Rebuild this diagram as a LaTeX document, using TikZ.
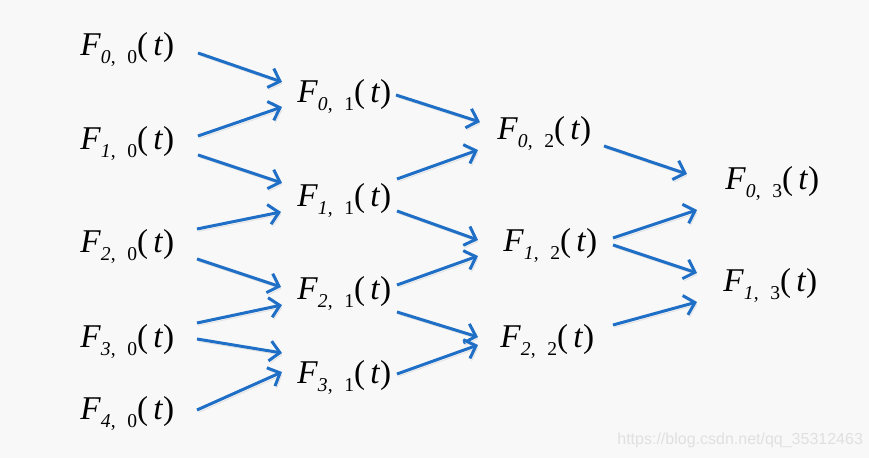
\documentclass[tikz,border=0pt]{standalone}
\usepackage{fontspec}
\setmainfont{Liberation Serif}
\newfontfamily\markfont{Liberation Sans}
\usepackage{xcolor}
\usepackage{tikz}
\usetikzlibrary{arrows.meta}

\definecolor{arrowblue}{RGB}{31,111,198}
\definecolor{paper}{RGB}{248,248,248}
\definecolor{markgray}{RGB}{224,224,224}

% F_{i, j}(t) as the slide prints it
\newcommand{\Fsub}[2]{\textit{F}\raisebox{-4pt}{\fontsize{9.8}{10}\selectfont\textit{#1},\hspace{0.6em}#2}(\hspace{2.5pt}\textit{t})}

\begin{document}
\begin{tikzpicture}[
    x=0.5pt, y=-0.5pt,
    font=\fontsize{16.6}{18}\selectfont,
    % Styles
    term/.style={inner sep=0pt, anchor=base west},
    arr/.style={-{Straight Barb[length=5pt,width=10pt]}, line width=1.5pt, draw=arrowblue,
        preaction={draw=black!12, transform canvas={shift={(0.8pt,-1.2pt)}}}}
]

% --- Background ---
\fill[paper] (0,0) rectangle (869,458);
\useasboundingbox (0,0) rectangle (869,458);

% --- Column j=0 ---
\node[term] (f00) at (80,56) {\Fsub{0}{0}};
\node[term] (f10) at (80,150) {\Fsub{1}{0}};
\node[term] (f20) at (80,253) {\Fsub{2}{0}};
\node[term] (f30) at (80,348) {\Fsub{3}{0}};
\node[term] (f40) at (80,420) {\Fsub{4}{0}};

% --- Column j=1 ---
\node[term] (f01) at (297,103) {\Fsub{0}{1}};
\node[term] (f11) at (297,207) {\Fsub{1}{1}};
\node[term] (f21) at (297,300) {\Fsub{2}{1}};
\node[term] (f31) at (297,384) {\Fsub{3}{1}};

% --- Column j=2 ---
\node[term] (f02) at (497,140) {\Fsub{0}{2}};
\node[term] (f12) at (503,252) {\Fsub{1}{2}};
\node[term] (f22) at (500,348) {\Fsub{2}{2}};

% --- Column j=3 ---
\node[term] (f03) at (725,190) {\Fsub{0}{3}};
\node[term] (f13) at (723,292) {\Fsub{1}{3}};

% --- Connections 0 -> 1 ---
\draw[arr] ([shift={(118,-3)}]f00.base west) -- ([shift={(-15,-21)}]f01.base west);
\draw[arr] ([shift={(118,-14)}]f10.base west) -- ([shift={(-15,4)}]f01.base west);
\draw[arr] ([shift={(118,5)}]f10.base west) -- ([shift={(-15,-24)}]f11.base west);
\draw[arr] ([shift={(117,-24)}]f20.base west) -- ([shift={(-16,5)}]f11.base west);
\draw[arr] ([shift={(117,6)}]f20.base west) -- ([shift={(-16,-13)}]f21.base west);
\draw[arr] ([shift={(117,-25)}]f30.base west) -- ([shift={(-15,5)}]f21.base west);
\draw[arr] ([shift={(117,-9)}]f30.base west) -- ([shift={(-15,-31)}]f31.base west);
\draw[arr] ([shift={(117,-10)}]f40.base west) -- ([shift={(-15,-12)}]f31.base west);

% --- Connections 1 -> 2 ---
\draw[arr] ([shift={(99,-8)}]f01.base west) -- ([shift={(-17,-18)}]f02.base west);
\draw[arr] ([shift={(100,-28)}]f11.base west) -- ([shift={(-19,10)}]f02.base west);
\draw[arr] ([shift={(100,4)}]f11.base west) -- ([shift={(-25,-12)}]f12.base west);
\draw[arr] ([shift={(100,-15)}]f21.base west) -- ([shift={(-25,4)}]f12.base west);
\draw[arr] ([shift={(100,12)}]f21.base west) -- ([shift={(-22,-11)}]f22.base west);
\draw[arr] ([shift={(100,-10)}]f31.base west) -- ([shift={(-22,-3)}]f22.base west);

% --- Connections 2 -> 3 ---
\draw[arr] ([shift={(107,6)}]f02.base west) -- ([shift={(-38,-16)}]f03.base west);
\draw[arr] ([shift={(110,-14)}]f12.base west) -- ([shift={(-28,20)}]f03.base west);
\draw[arr] ([shift={(110,-7)}]f12.base west) -- ([shift={(-26,-19)}]f13.base west);
\draw[arr] ([shift={(113,-23)}]f22.base west) -- ([shift={(-26,10)}]f13.base west);

% --- Watermark ---
\node[term, font=\markfont\fontsize{8}{9}\selectfont, text=markgray] (mark) at (617,445) {https://blog.csdn.net/qq\_35312463};

\end{tikzpicture}
\end{document}
